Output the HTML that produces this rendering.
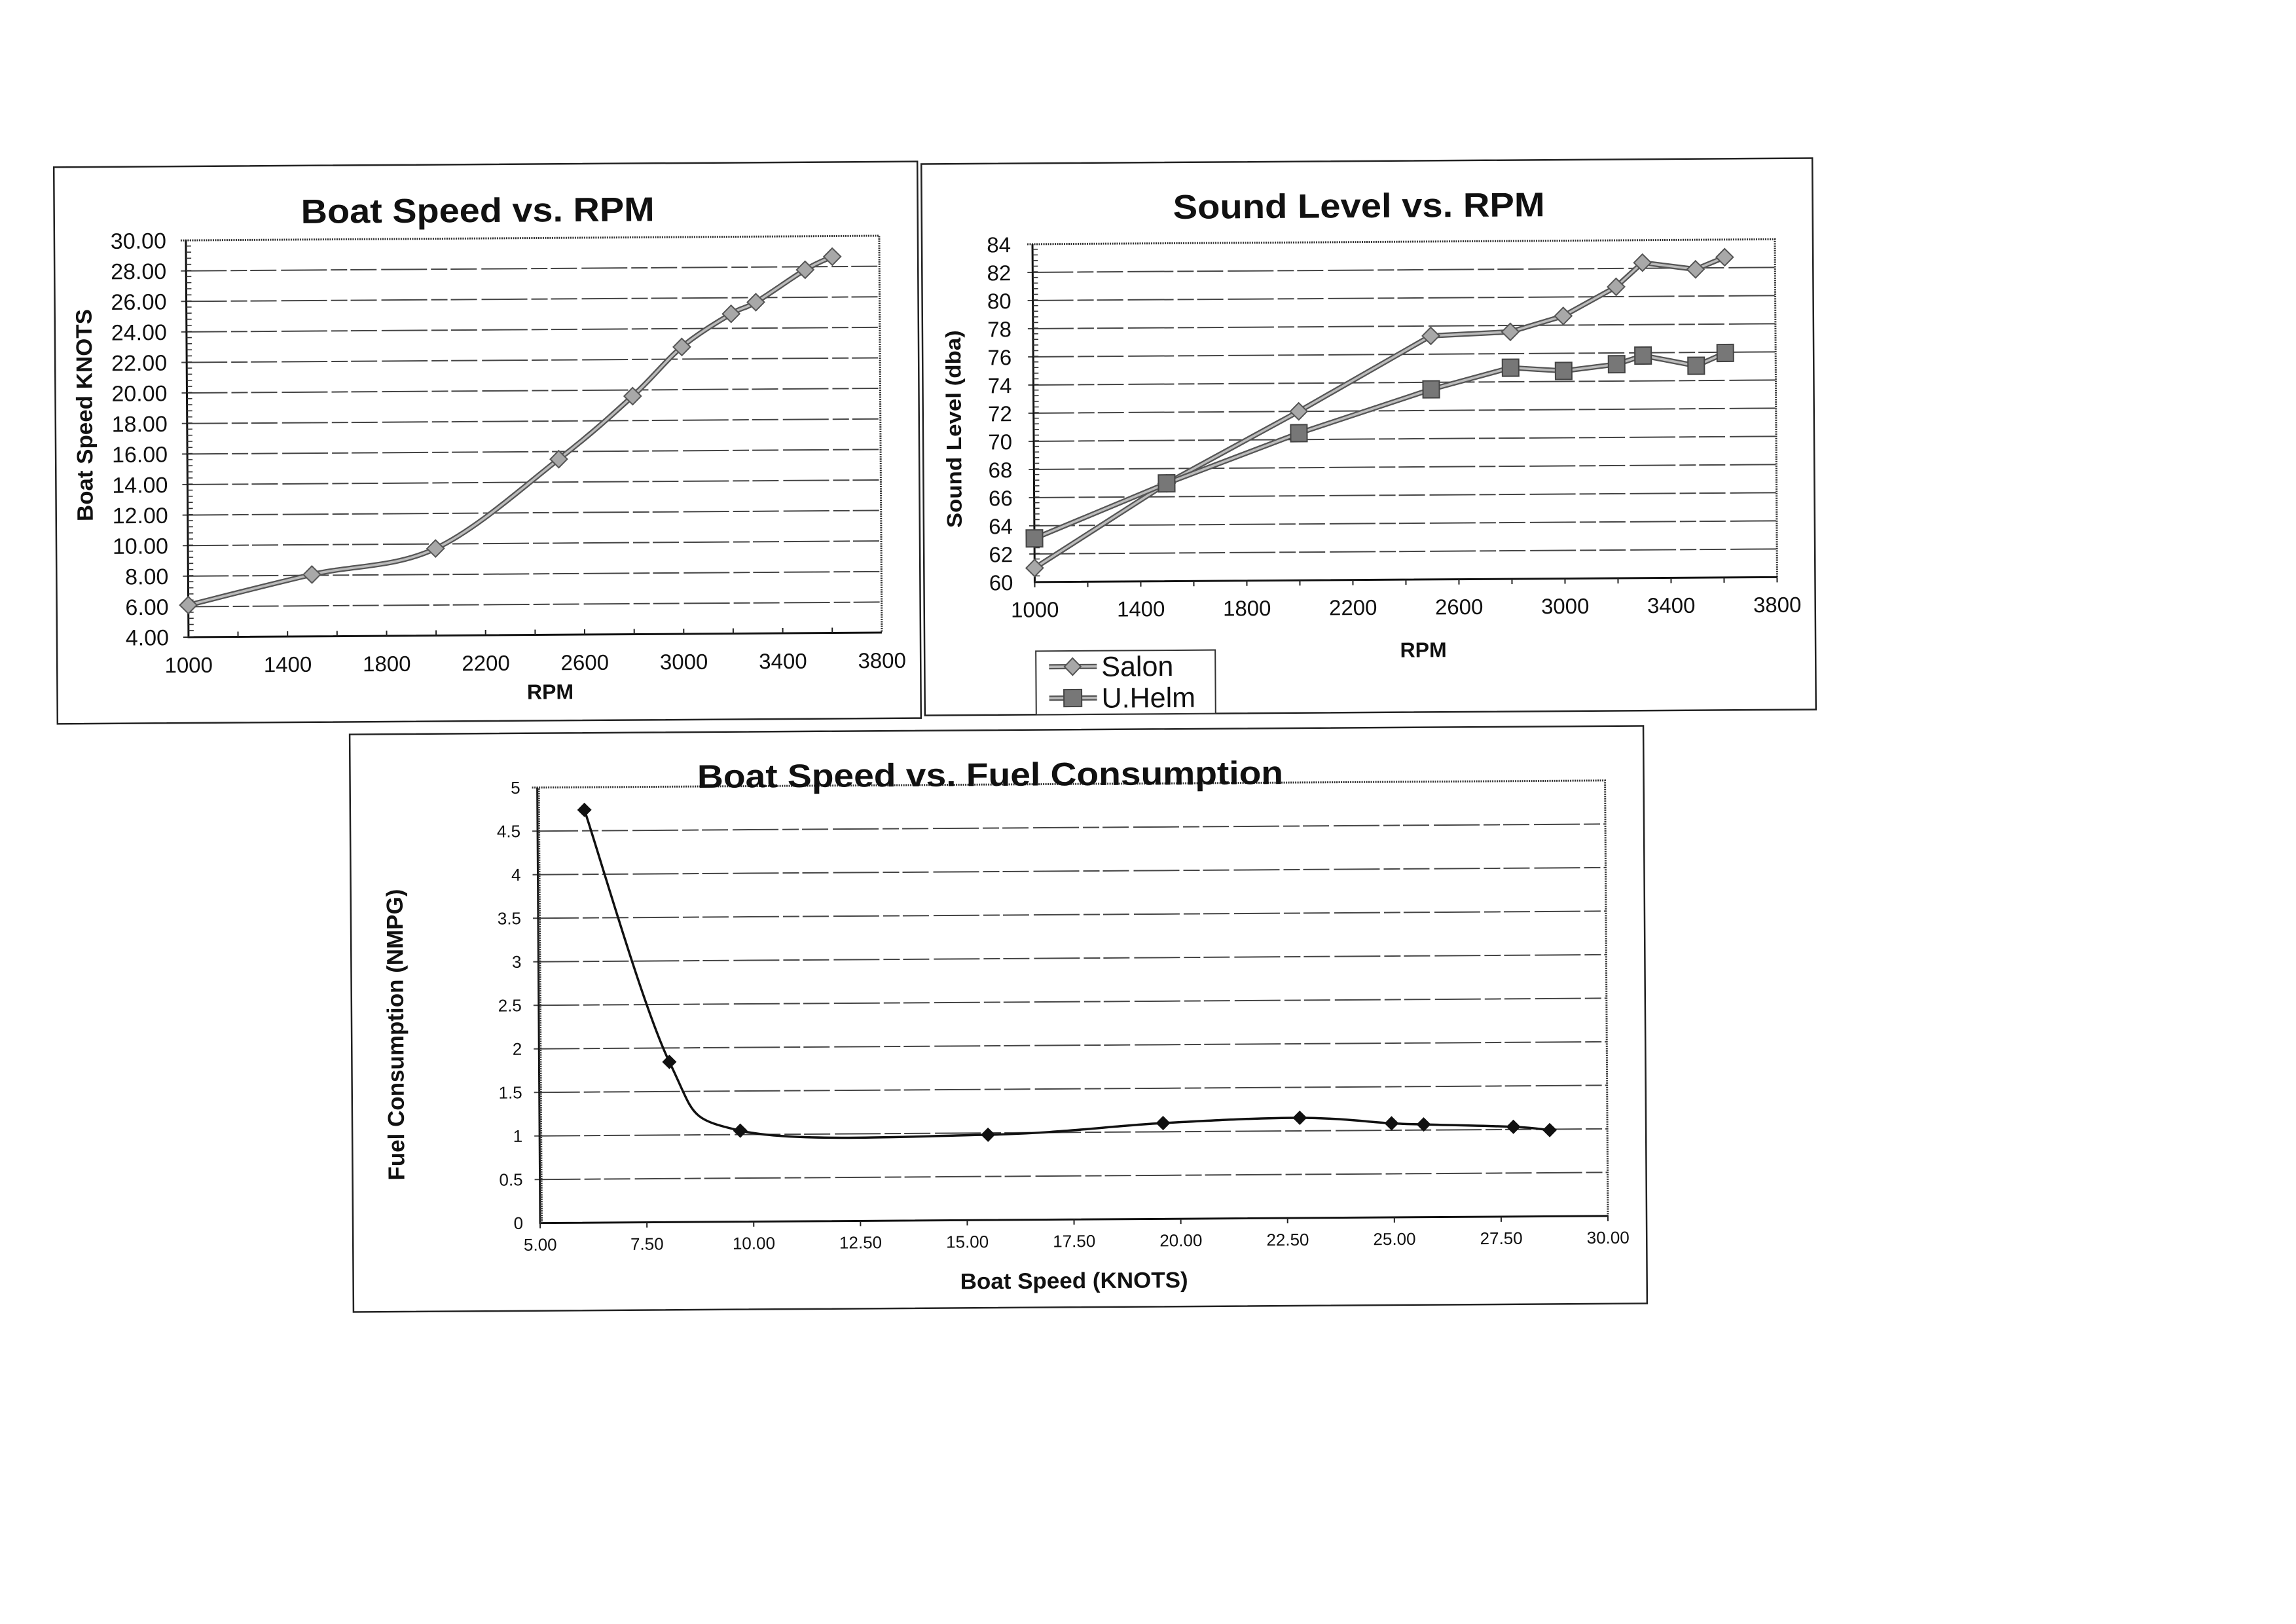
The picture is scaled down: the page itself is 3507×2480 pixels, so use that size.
<!DOCTYPE html>
<html>
<head>
<meta charset="utf-8">
<style>
html,body{margin:0;padding:0;background:#fff;}
svg{display:block;}
text{font-family:"Liberation Sans",Arial,sans-serif;fill:#111;}
.b{font-weight:bold;}
</style>
</head>
<body>
<svg xmlns="http://www.w3.org/2000/svg" width="3507" height="2480" viewBox="0 0 3507 2480">
<rect width="3507" height="2480" fill="#fff"/>

<!-- ================= CHART 1 : Boat Speed vs RPM ================= -->
<g transform="rotate(-0.38 745 677)">
  <rect x="85" y="251" width="1319" height="850" fill="none" stroke="#222" stroke-width="2.5"/>
  <text class="b" x="732" y="339" font-size="52" text-anchor="middle" textLength="540" lengthAdjust="spacingAndGlyphs">Boat Speed vs. RPM</text>
  <!-- gridlines -->
  <g stroke="#444" stroke-width="2" fill="none" stroke-dasharray="70 6 25 5 40 7">
    <path d="M278,923.4H1345M278,876.8H1345M278,830.1H1345M278,783.5H1345M278,736.9H1345M278,690.3H1345M278,643.7H1345M278,597H1345M278,550.4H1345M278,503.8H1345M278,457.2H1345M278,410.6H1345"/>
  </g>
  <!-- plot border -->
  <path d="M278,364H1345V970" fill="none" stroke="#333" stroke-width="3" stroke-dasharray="2 1.5"/>
  <path d="M286,364V970H1345" fill="none" stroke="#111" stroke-width="3"/>
  <path d="M290,970V364" fill="none" stroke="#333" stroke-width="8" stroke-dasharray="1.6 7.72"/>
  <path d="M278,970H286M361.6,970v-8M437.3,970v-8M512.9,970v-8M588.6,970v-8M664.2,970v-8M739.8,970v-8M815.5,970v-8M891.1,970v-8M966.8,970v-8M1042.4,970v-8M1118,970v-8M1193.7,970v-8M1269.3,970v-8" stroke="#222" stroke-width="2"/>
  <!-- y labels -->
  <g font-size="34" text-anchor="end">
    <text x="256" y="376">30.00</text>
    <text x="256" y="422.6">28.00</text>
    <text x="256" y="469.2">26.00</text>
    <text x="256" y="515.8">24.00</text>
    <text x="256" y="562.4">22.00</text>
    <text x="256" y="609">20.00</text>
    <text x="256" y="655.7">18.00</text>
    <text x="256" y="702.3">16.00</text>
    <text x="256" y="748.9">14.00</text>
    <text x="256" y="795.5">12.00</text>
    <text x="256" y="842.1">10.00</text>
    <text x="256" y="888.8">8.00</text>
    <text x="256" y="935.4">6.00</text>
    <text x="256" y="982">4.00</text>
  </g>
  <!-- x labels -->
  <g font-size="33" text-anchor="middle">
    <text x="286" y="1024">1000</text>
    <text x="437.3" y="1024">1400</text>
    <text x="588.6" y="1024">1800</text>
    <text x="739.8" y="1024">2200</text>
    <text x="891.1" y="1024">2600</text>
    <text x="1042.4" y="1024">3000</text>
    <text x="1193.7" y="1024">3400</text>
    <text x="1345" y="1024">3800</text>
  </g>
  <text class="b" x="838" y="1068" font-size="32" text-anchor="middle">RPM</text>
  <text class="b" transform="translate(141 630) rotate(-90)" x="0" y="0" font-size="34" text-anchor="middle" textLength="324" lengthAdjust="spacingAndGlyphs">Boat Speed KNOTS</text>
  <!-- series -->
  <path d="M286,921 C317.5,913.4 412.1,889.6 475.1,875.6 C538.1,861.6 601.2,866.1 664.2,837.1 C727.2,808.1 802.9,740.4 853.3,701.9 C903.7,663.4 935.3,634.8 966.8,606.4 C998.3,578 1017.2,552.6 1042.4,531.8 C1067.6,511 1099.1,493 1118,481.7 C1136.9,470.4 1137,475.3 1155.9,464.2 C1174.8,453.1 1212,426.7 1231.5,415.2 C1251,403.7 1266.2,398.7 1273.1,395.4" fill="none" stroke="#555" stroke-width="8" stroke-linejoin="round"/>
  <path d="M286,921 C317.5,913.4 412.1,889.6 475.1,875.6 C538.1,861.6 601.2,866.1 664.2,837.1 C727.2,808.1 802.9,740.4 853.3,701.9 C903.7,663.4 935.3,634.8 966.8,606.4 C998.3,578 1017.2,552.6 1042.4,531.8 C1067.6,511 1099.1,493 1118,481.7 C1136.9,470.4 1137,475.3 1155.9,464.2 C1174.8,453.1 1212,426.7 1231.5,415.2 C1251,403.7 1266.2,398.7 1273.1,395.4" fill="none" stroke="#bbb" stroke-width="3.5" stroke-linejoin="round"/>
  <g fill="#a8a8a8" stroke="#555" stroke-width="2">
    <path d="M286,908l13,13l-13,13l-13,-13z"/>
    <path d="M475.1,862.6l13,13l-13,13l-13,-13z"/>
    <path d="M664.2,824.1l13,13l-13,13l-13,-13z"/>
    <path d="M853.3,688.9l13,13l-13,13l-13,-13z"/>
    <path d="M966.8,593.4l13,13l-13,13l-13,-13z"/>
    <path d="M1042.4,518.8l13,13l-13,13l-13,-13z"/>
    <path d="M1118,468.7l13,13l-13,13l-13,-13z"/>
    <path d="M1155.9,451.2l13,13l-13,13l-13,-13z"/>
    <path d="M1231.5,402.2l13,13l-13,13l-13,-13z"/>
    <path d="M1273.1,382.4l13,13l-13,13l-13,-13z"/>
  </g>
</g>

<!-- ================= CHART 2 : Sound Level vs RPM ================= -->
<g transform="rotate(-0.38 2090 667)">
  <rect x="1410" y="246" width="1361" height="842" fill="none" stroke="#222" stroke-width="2.5"/>
  <text class="b" x="2078" y="332" font-size="52" text-anchor="middle" textLength="568" lengthAdjust="spacingAndGlyphs">Sound Level vs. RPM</text>
  <g stroke="#444" stroke-width="2" fill="none" stroke-dasharray="70 6 25 5 40 7">
    <path d="M1571,842.5H2713M1571,799.5H2713M1571,756.5H2713M1571,713.5H2713M1571,670.5H2713M1571,627.5H2713M1571,584.5H2713M1571,541.5H2713M1571,498.5H2713M1571,455.5H2713M1571,412.5H2713"/>
  </g>
  <path d="M1571,369.5H2713V885.5" fill="none" stroke="#333" stroke-width="3" stroke-dasharray="2 1.5"/>
  <path d="M1579,369.5V885.5H2713" fill="none" stroke="#111" stroke-width="3"/>
  <path d="M1583,885.5V369.5" fill="none" stroke="#333" stroke-width="8" stroke-dasharray="1.6 7"/>
  <path d="M1579,885.5v8M1660,885.5v8M1741,885.5v8M1822,885.5v8M1903,885.5v8M1984,885.5v8M2065,885.5v8M2146,885.5v8M2227,885.5v8M2308,885.5v8M2389,885.5v8M2470,885.5v8M2551,885.5v8M2632,885.5v8M2713,885.5v8" stroke="#222" stroke-width="2"/>
  <g font-size="33" text-anchor="end">
    <text x="1546" y="381.5">84</text>
    <text x="1546" y="424.5">82</text>
    <text x="1546" y="467.5">80</text>
    <text x="1546" y="510.5">78</text>
    <text x="1546" y="553.5">76</text>
    <text x="1546" y="596.5">74</text>
    <text x="1546" y="639.5">72</text>
    <text x="1546" y="682.5">70</text>
    <text x="1546" y="725.5">68</text>
    <text x="1546" y="768.5">66</text>
    <text x="1546" y="811.5">64</text>
    <text x="1546" y="854.5">62</text>
    <text x="1546" y="897.5">60</text>
  </g>
  <g font-size="33" text-anchor="middle">
    <text x="1579" y="939">1000</text>
    <text x="1741" y="939">1400</text>
    <text x="1903" y="939">1800</text>
    <text x="2065" y="939">2200</text>
    <text x="2227" y="939">2600</text>
    <text x="2389" y="939">3000</text>
    <text x="2551" y="939">3400</text>
    <text x="2713" y="939">3800</text>
  </g>
  <text class="b" x="2172" y="1004" font-size="32" text-anchor="middle">RPM</text>
  <text class="b" transform="translate(1468 651) rotate(-90)" x="0" y="0" font-size="32" text-anchor="middle" textLength="302" lengthAdjust="spacingAndGlyphs">Sound Level (dba)</text>
  <!-- Salon -->
  <polyline points="1579,864 1781.5,736.1 1984,627.5 2186.5,513.5 2308,508.2 2389,484.5 2470,440.5 2510.5,403.9 2591.5,414.6 2636.1,396.4" fill="none" stroke="#555" stroke-width="8" stroke-linejoin="round"/>
  <polyline points="1579,864 1781.5,736.1 1984,627.5 2186.5,513.5 2308,508.2 2389,484.5 2470,440.5 2510.5,403.9 2591.5,414.6 2636.1,396.4" fill="none" stroke="#bbb" stroke-width="3.5" stroke-linejoin="round"/>
  <g fill="#a8a8a8" stroke="#555" stroke-width="2">
    <path d="M1579,851l13,13l-13,13l-13,-13z"/>
    <path d="M1781.5,723.1l13,13l-13,13l-13,-13z"/>
    <path d="M1984,614.5l13,13l-13,13l-13,-13z"/>
    <path d="M2186.5,500.5l13,13l-13,13l-13,-13z"/>
    <path d="M2308,495.2l13,13l-13,13l-13,-13z"/>
    <path d="M2389,471.5l13,13l-13,13l-13,-13z"/>
    <path d="M2470,427.5l13,13l-13,13l-13,-13z"/>
    <path d="M2510.5,390.9l13,13l-13,13l-13,-13z"/>
    <path d="M2591.5,401.6l13,13l-13,13l-13,-13z"/>
    <path d="M2636.1,383.4l13,13l-13,13l-13,-13z"/>
  </g>
  <!-- U.Helm -->
  <polyline points="1579,818.8 1781.5,736.1 1984,660.8 2186.5,595.2 2308,563 2389,568.4 2470,558.7 2510.5,545.8 2591.5,561.9 2636.1,542.6" fill="none" stroke="#555" stroke-width="8" stroke-linejoin="round"/>
  <polyline points="1579,818.8 1781.5,736.1 1984,660.8 2186.5,595.2 2308,563 2389,568.4 2470,558.7 2510.5,545.8 2591.5,561.9 2636.1,542.6" fill="none" stroke="#bbb" stroke-width="3.5" stroke-linejoin="round"/>
  <g fill="#777" stroke="#444" stroke-width="2">
    <rect x="1566.5" y="805.8" width="25" height="26"/>
    <rect x="1769" y="723.1" width="25" height="26"/>
    <rect x="1971.5" y="647.8" width="25" height="26"/>
    <rect x="2174" y="582.2" width="25" height="26"/>
    <rect x="2295.5" y="550" width="25" height="26"/>
    <rect x="2376.5" y="555.4" width="25" height="26"/>
    <rect x="2457.5" y="545.7" width="25" height="26"/>
    <rect x="2498" y="532.8" width="25" height="26"/>
    <rect x="2579" y="548.9" width="25" height="26"/>
    <rect x="2623.6" y="529.6" width="25" height="26"/>
  </g>
  <!-- legend -->
  <rect x="1580" y="991" width="274" height="97" fill="#fff" stroke="#333" stroke-width="2"/>
  <path d="M1600,1015H1673M1600,1063H1673" stroke="#555" stroke-width="8"/>
  <path d="M1600,1015H1673M1600,1063H1673" stroke="#bbb" stroke-width="3.5"/>
  <path d="M1636,1002l12.5,13l-12.5,13l-12.5,-13z" fill="#a8a8a8" stroke="#555" stroke-width="2"/>
  <rect x="1622.5" y="1050" width="27" height="26" fill="#777" stroke="#444" stroke-width="2"/>
  <text x="1680" y="1030" font-size="43">Salon</text>
  <text x="1680" y="1078" font-size="43">U.Helm</text>
</g>

<!-- ================= CHART 3 : Boat Speed vs Fuel Consumption ================= -->
<g transform="rotate(-0.38 1526 1558)">
  <rect x="537" y="1115" width="1976" height="882" fill="none" stroke="#222" stroke-width="2.5"/>
  <g stroke="#444" stroke-width="2" fill="none" stroke-dasharray="70 6 25 5 40 7">
    <path d="M815,1796.5H2454M815,1730H2454M815,1663.5H2454M815,1597H2454M815,1530.5H2454M815,1464H2454M815,1397.5H2454M815,1331H2454M815,1264.5H2454"/>
  </g>
  <path d="M815,1198H2454V1863" fill="none" stroke="#333" stroke-width="3" stroke-dasharray="2 1.5"/>
  <path d="M823,1198V1863H2454" fill="none" stroke="#111" stroke-width="3"/>
  <path d="M825,1863V1198" fill="none" stroke="#333" stroke-width="4" stroke-dasharray="2 1.5"/>
  <path d="M823,1863v8M986.1,1863v8M1149.2,1863v8M1312.3,1863v8M1475.4,1863v8M1638.5,1863v8M1801.6,1863v8M1964.7,1863v8M2127.8,1863v8M2290.9,1863v8M2454,1863v8" stroke="#222" stroke-width="2"/>
  <text class="b" x="1515" y="1200" font-size="50" text-anchor="middle" textLength="895" lengthAdjust="spacingAndGlyphs">Boat Speed vs. Fuel Consumption</text>
  <g font-size="26" text-anchor="end">
    <text x="797" y="1207">5</text>
    <text x="797" y="1273.5">4.5</text>
    <text x="797" y="1340">4</text>
    <text x="797" y="1406.5">3.5</text>
    <text x="797" y="1473">3</text>
    <text x="797" y="1539.5">2.5</text>
    <text x="797" y="1606">2</text>
    <text x="797" y="1672.5">1.5</text>
    <text x="797" y="1739">1</text>
    <text x="797" y="1805.5">0.5</text>
    <text x="797" y="1872">0</text>
  </g>
  <g font-size="26" text-anchor="middle">
    <text x="823" y="1905">5.00</text>
    <text x="986.1" y="1905">7.50</text>
    <text x="1149.2" y="1905">10.00</text>
    <text x="1312.3" y="1905">12.50</text>
    <text x="1475.4" y="1905">15.00</text>
    <text x="1638.5" y="1905">17.50</text>
    <text x="1801.6" y="1905">20.00</text>
    <text x="1964.7" y="1905">22.50</text>
    <text x="2127.8" y="1905">25.00</text>
    <text x="2290.9" y="1905">27.50</text>
    <text x="2454" y="1905">30.00</text>
  </g>
  <text class="b" x="1638" y="1968" font-size="34" text-anchor="middle" textLength="348" lengthAdjust="spacingAndGlyphs">Boat Speed (KNOTS)</text>
  <text class="b" transform="translate(616 1574) rotate(-90)" x="0" y="0" font-size="35" text-anchor="middle" textLength="445" lengthAdjust="spacingAndGlyphs">Fuel Consumption (NMPG)</text>
  <path d="M894.8,1232.6 C916,1296.9 982.9,1536.4 1022,1618.3 C1061.1,1700.2 1048.6,1704.9 1129.6,1724 C1210.6,1743.1 1400.3,1733.9 1508,1732.7 C1615.7,1731.5 1696.1,1720.5 1775.5,1716.7 C1854.9,1712.9 1926.1,1709.6 1984.3,1710 C2042.5,1710.5 2093,1717.5 2124.5,1719.4 C2156,1721.3 2142.5,1720.3 2173.5,1721.4 C2204.5,1722.5 2278.4,1724.4 2310.5,1726 C2342.6,1727.7 2356.7,1730.4 2365.9,1731.3" fill="none" stroke="#111" stroke-width="3.5"/>
  <g fill="#111">
    <path d="M894.8,1221.6l11,11l-11,11l-11,-11z"/>
    <path d="M1022,1607.3l11,11l-11,11l-11,-11z"/>
    <path d="M1129.6,1713l11,11l-11,11l-11,-11z"/>
    <path d="M1508,1721.7l11,11l-11,11l-11,-11z"/>
    <path d="M1775.5,1705.7l11,11l-11,11l-11,-11z"/>
    <path d="M1984.3,1699l11,11l-11,11l-11,-11z"/>
    <path d="M2124.5,1708.4l11,11l-11,11l-11,-11z"/>
    <path d="M2173.5,1710.4l11,11l-11,11l-11,-11z"/>
    <path d="M2310.5,1715l11,11l-11,11l-11,-11z"/>
    <path d="M2365.9,1720.3l11,11l-11,11l-11,-11z"/>
  </g>
</g>
</svg>
</body>
</html>
